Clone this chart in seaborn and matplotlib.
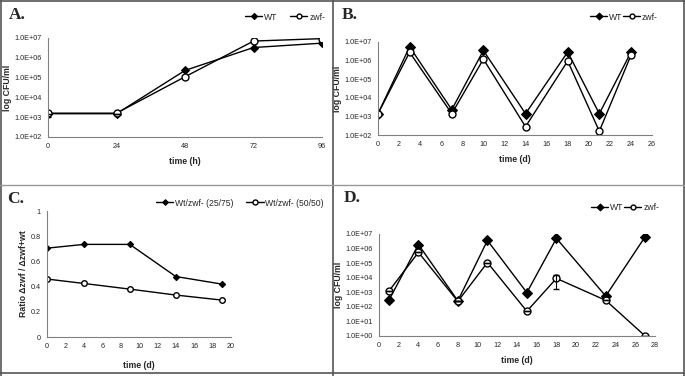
import matplotlib
matplotlib.use("Agg")
import matplotlib.pyplot as plt
import matplotlib.ticker as mticker
import seaborn as sns
import numpy as np

# panel A: growth curve
a_time = [0, 24, 48, 72, 96]
a_wt = [1.5e3, 1.5e3, 2.3e5, 3.3e6, 5.5e6]
a_zwf = [1.6e3, 1.6e3, 1.1e5, 7.0e6, 9.3e6]
a_wt_err = [5e2, 0, 0, 0, 0]

# panel B: cycles
b_time = [0, 3, 7, 10, 14, 18, 21, 24]
b_wt = [1.4e3, 5.5e6, 2.3e3, 3.5e6, 1.4e3, 2.9e6, 1.4e3, 2.8e6]
b_zwf = [1.4e3, 2.8e6, 1.4e3, 1.2e6, 2.8e2, 9.5e5, 1.6e2, 1.9e6]

# panel C: ratio
c_time = [0, 4, 9, 14, 19]
c_2575 = [0.705, 0.735, 0.735, 0.48, 0.42]
c_5050 = [0.46, 0.425, 0.38, 0.333, 0.293]

# panel D: cycles
d_time = [1, 4, 8, 11, 15, 18, 23, 27]
d_wt = [2.8e2, 1.9e6, 2.6e2, 3.6e6, 9.5e2, 5.0e6, 5.5e2, 6.5e6]
d_zwf = [1.2e3, 5.5e5, 2.4e2, 1.1e5, 50, 9.0e3, 2.8e2, 1.0]
d_wt_err = [80, 0, 0, 0, 0, 0, 0, 0]
d_zwf_err_lo = [0, 0, 0, 0, 0, 7.3e3, 0, 0]
d_zwf_err_hi = [0, 0, 0, 0, 0, 6.5e3, 0, 0]

sns.set_style("white")
plt.rcParams['font.family'] = ['Liberation Sans', 'DejaVu Sans']

fig = plt.figure(figsize=(6.85, 3.76), dpi=100)
W, H = 685.0, 376.0


def px_axes(left, top, right, bottom):
    return fig.add_axes([left / W, 1 - bottom / H, (right - left) / W, (bottom - top) / H])


def sci(v, pos):
    e = int(round(np.log10(v)))
    return "1.0E+%02d" % e


def style(ax, xlabel, ylabel):
    for s in ['top', 'right']:
        ax.spines[s].set_visible(False)
    for s in ['left', 'bottom']:
        ax.spines[s].set_color('#808080')
        ax.spines[s].set_linewidth(0.8)
    ax.tick_params(axis='both', labelsize=5.2, length=2.5, width=0.6, color='#808080', pad=2)
    ax.set_xlabel(xlabel, fontsize=6.3, fontweight='bold', labelpad=5)
    ax.set_ylabel(ylabel, fontsize=6.3, fontweight='bold', labelpad=2)


def two_lines(ax, x, y1, y2, lab1, lab2, ms1=4, ms2=4.5):
    sns.lineplot(x=x, y=y1, ax=ax, color='black', lw=1.0, marker='D', markersize=ms1,
                 markeredgecolor='black', markerfacecolor='black', label=lab1)
    sns.lineplot(x=x, y=y2, ax=ax, color='black', lw=1.0, marker='o', markersize=ms2,
                 markeredgecolor='black', markerfacecolor='white', markeredgewidth=1.0, label=lab2)


def log_axis(ax, lo, hi):
    ax.set_yscale('log')
    ax.set_ylim(lo, hi)
    ax.yaxis.set_major_locator(mticker.LogLocator(base=10, numticks=20))
    ax.yaxis.set_minor_locator(mticker.NullLocator())
    ax.yaxis.set_major_formatter(mticker.FuncFormatter(sci))


def legend(ax, anchor, spacing=1.0, scale=0.7):
    ax.legend(loc='center', bbox_to_anchor=anchor, bbox_transform=fig.transFigure, ncol=2,
              frameon=False, fontsize=6.2, handlelength=2.0, handletextpad=0.2,
              columnspacing=spacing, borderpad=0, markerscale=scale)


# A
ax = px_axes(48, 38, 322, 137)
two_lines(ax, a_time, a_wt, a_zwf, 'WT', 'zwf-', ms1=4.5, ms2=5)
ax.errorbar(a_time, a_wt, yerr=[a_wt_err, [0] * 5], fmt='none', ecolor='black', elinewidth=0.8, capsize=2)
log_axis(ax, 1e2, 1e7)
ax.set_xlim(0, 96)
ax.set_xticks(a_time)
style(ax, 'time (h)', 'log CFU/ml')
legend(ax, (285 / W, 1 - 17 / H), spacing=1.5)

# B
ax = px_axes(378, 42, 652, 135)
two_lines(ax, b_time, b_wt, b_zwf, 'WT', 'zwf-', ms1=5, ms2=5)
log_axis(ax, 1e2, 1e7)
ax.set_xlim(0, 26)
ax.set_xticks(range(0, 27, 2))
style(ax, 'time (d)', 'log CFU/ml')
legend(ax, (624 / W, 1 - 17 / H), spacing=0.1)

# C
ax = px_axes(47, 211, 231, 337)
two_lines(ax, c_time, c_2575, c_5050, 'Wt/zwf- (25/75)', 'Wt/zwf- (50/50)', ms1=3.2, ms2=4)
ax.set_ylim(0, 1)
ax.set_xlim(0, 20)
ax.set_xticks(range(0, 21, 2))
ax.set_yticks([0, 0.2, 0.4, 0.6, 0.8, 1])
ax.set_yticklabels(['0', '0.2', '0.4', '0.6', '0.8', '1'])
style(ax, 'time (d)', 'Ratio \u0394zwf / \u0394zwf+wt')
ax.xaxis.labelpad = 8
legend(ax, (240 / W, 1 - 203 / H), spacing=1.5, scale=0.9)

# D
ax = px_axes(379, 234, 655, 336)
two_lines(ax, d_time, d_wt, d_zwf, 'WT', 'zwf-', ms1=5, ms2=5)
ax.errorbar(d_time, d_wt, yerr=[d_wt_err, d_wt_err], fmt='none', ecolor='black', elinewidth=0.8, capsize=2)
ax.errorbar(d_time, d_zwf, yerr=[d_zwf_err_lo, d_zwf_err_hi], fmt='none',
            ecolor='black', elinewidth=0.8, capsize=2)
log_axis(ax, 1, 1e7)
ax.set_xlim(0, 28)
ax.set_xticks(range(0, 29, 2))
style(ax, 'time (d)', 'log CFU/ml')
legend(ax, (625 / W, 1 - 208 / H), spacing=0.1)

# panel letters
for lab, x, y in [('A.', 9, 15), ('B.', 342, 15), ('C.', 7, 199), ('D.', 344, 198)]:
    fig.text(x / W, 1 - y / H, lab, fontsize=12.5, fontweight='bold', family='Liberation Serif',
             va='center', ha='left')

# frames around panels
frame = dict(color='#555555', lw=1.2, transform=fig.transFigure)
fig.add_artist(plt.Line2D([1 / W, 1 / W], [0, 1], **frame))
fig.add_artist(plt.Line2D([684 / W, 684 / W], [0, 1], **frame))
fig.add_artist(plt.Line2D([0, 1], [1 - 1 / H, 1 - 1 / H], **frame))
fig.add_artist(plt.Line2D([0, 1], [1 - 373 / H, 1 - 373 / H], **frame))
fig.add_artist(plt.Line2D([333 / W, 333 / W], [0, 1], **frame))
fig.add_artist(plt.Line2D([0, 1], [1 - 185 / H, 1 - 185 / H], color='#999999', lw=1.0,
                          transform=fig.transFigure))

fig.savefig('out.png', dpi=100)
